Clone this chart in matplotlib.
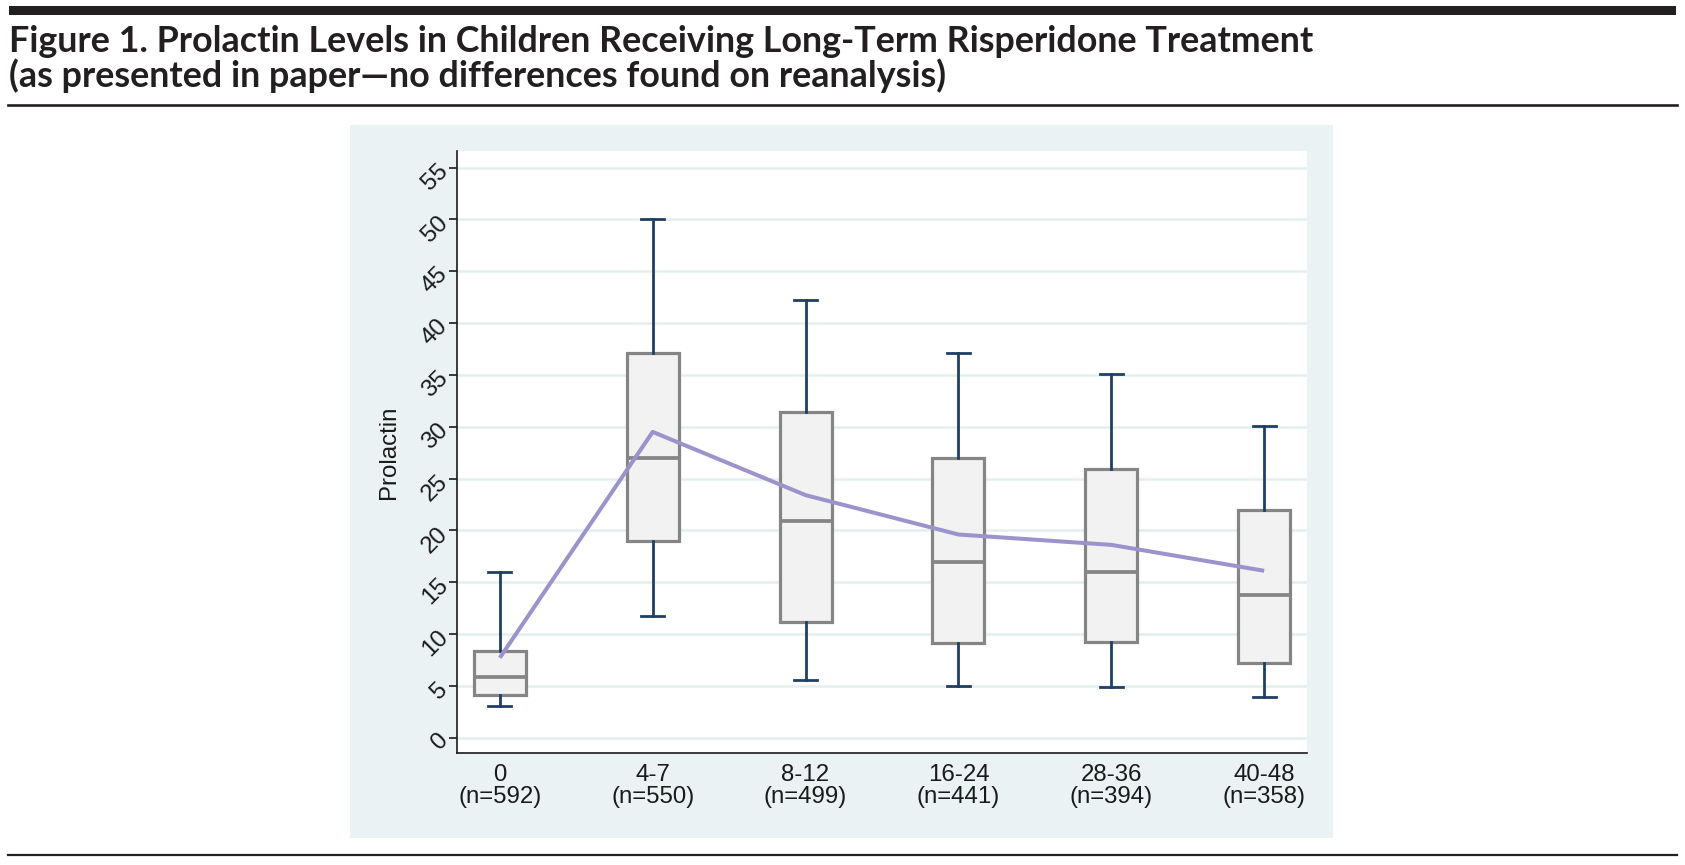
import matplotlib
matplotlib.use("Agg")
import matplotlib.pyplot as plt
from matplotlib.patches import Rectangle
from matplotlib.lines import Line2D

# data
groups = ["0", "4-7", "8-12", "16-24", "28-36", "40-48"]
n_sizes = [592, 550, 499, 441, 394, 358]
whisk_lo = [3.1, 11.7, 5.6, 5.0, 4.9, 3.9]
q1 = [4.1, 19.0, 11.2, 9.1, 9.2, 7.2]
medians = [5.9, 27.0, 20.9, 16.9, 16.0, 13.8]
q3 = [8.4, 37.1, 31.4, 27.0, 25.9, 22.0]
whisk_hi = [16.0, 50.0, 42.2, 37.1, 35.1, 30.1]
means = [7.7, 29.5, 23.4, 19.6, 18.6, 16.1]
yticks = list(range(0, 60, 5))

W, H = 1685, 865
fig = plt.figure(figsize=(W / 100, H / 100), dpi=100)
fig.patch.set_facecolor("white")

def fx(px):
    return px / W

def fy(py):
    return 1 - py / H

# header / footer rules
fig.patches.append(Rectangle((fx(9), fy(15)), fx(1667), 9 / H, transform=fig.transFigure,
                             facecolor="#231f20", edgecolor="none"))
fig.lines.append(Line2D([fx(8), fx(1677)], [fy(105), fy(105)], transform=fig.transFigure,
                        color="#231f20", lw=1.9))
fig.lines.append(Line2D([fx(8), fx(1677)], [fy(855), fy(855)], transform=fig.transFigure,
                        color="#231f20", lw=1.6))

tfont = dict(family="Lato", weight="bold", fontsize=25.8, color="#231f20")
fig.text(fx(9), fy(52), "Figure 1. Prolactin Levels in Children Receiving Long-Term Risperidone Treatment",
         va="baseline", ha="left", **tfont)
fig.text(fx(9), fy(87), "(as presented in paper\u2014no differences found on reanalysis)",
         va="baseline", ha="left", **tfont)

# graph panel background
fig.patches.append(Rectangle((fx(350), fy(838)), fx(983), (838 - 125) / H, transform=fig.transFigure,
                             facecolor="#eaf2f3", edgecolor="none", zorder=0))

ax = fig.add_axes([fx(457), fy(752.7), fx(1307 - 457), (752.7 - 151) / H])
ax.set_zorder(2)
ax.set_facecolor("white")

stats = []
for i in range(len(groups)):
    stats.append(dict(med=medians[i], q1=q1[i], q3=q3[i], whislo=whisk_lo[i], whishi=whisk_hi[i], fliers=[]))

pos = list(range(len(groups)))
ax.bxp(stats, positions=pos, widths=0.34, patch_artist=True, showfliers=False,
       boxprops=dict(facecolor="#f2f2f2", edgecolor="#858585", linewidth=2.3),
       medianprops=dict(color="#858585", linewidth=2.7),
       whiskerprops=dict(color="#1f3f66", linewidth=2.0),
       capprops=dict(color="#1f3f66", linewidth=2.0),
       capwidths=0.15, zorder=3)

ax.plot(pos, means, color="#9b93cc", lw=2.9, zorder=4, solid_capstyle="butt")

tick_font = ["Liberation Sans", "DejaVu Sans"]
ax.set_xlim(-0.28, 5.28)
ax.set_ylim(-1.45, 56.6)
ax.set_yticks(yticks)
ax.set_yticklabels([str(t) for t in yticks], rotation=45, ha="right", va="center",
                   rotation_mode="anchor", family=tick_font, fontsize=17.3, color="#1a1a1a")
ax.set_xticks(pos)
ax.set_xticklabels([f"{g}\n(n={n})" for g, n in zip(groups, n_sizes)],
                   family=tick_font, fontsize=17.3, linespacing=1.0, color="#1a1a1a")
ax.tick_params(axis="x", length=0, pad=8)
ax.tick_params(axis="y", length=6, width=1.2, pad=3, color="#1a1a1a")
ax.grid(axis="y", color="#e4eeee", lw=1.8, zorder=0)
ax.set_axisbelow(True)
for s in ["top", "right"]:
    ax.spines[s].set_visible(False)
for s in ["left", "bottom"]:
    ax.spines[s].set_linewidth(1.2)
    ax.spines[s].set_color("#1a1a1a")

fig.text(fx(389), fy(452), "Prolactin", rotation=90, ha="center", va="center",
         family=tick_font, fontsize=17.3, color="#1a1a1a")

fig.savefig("out.png", dpi=100, facecolor="white")
